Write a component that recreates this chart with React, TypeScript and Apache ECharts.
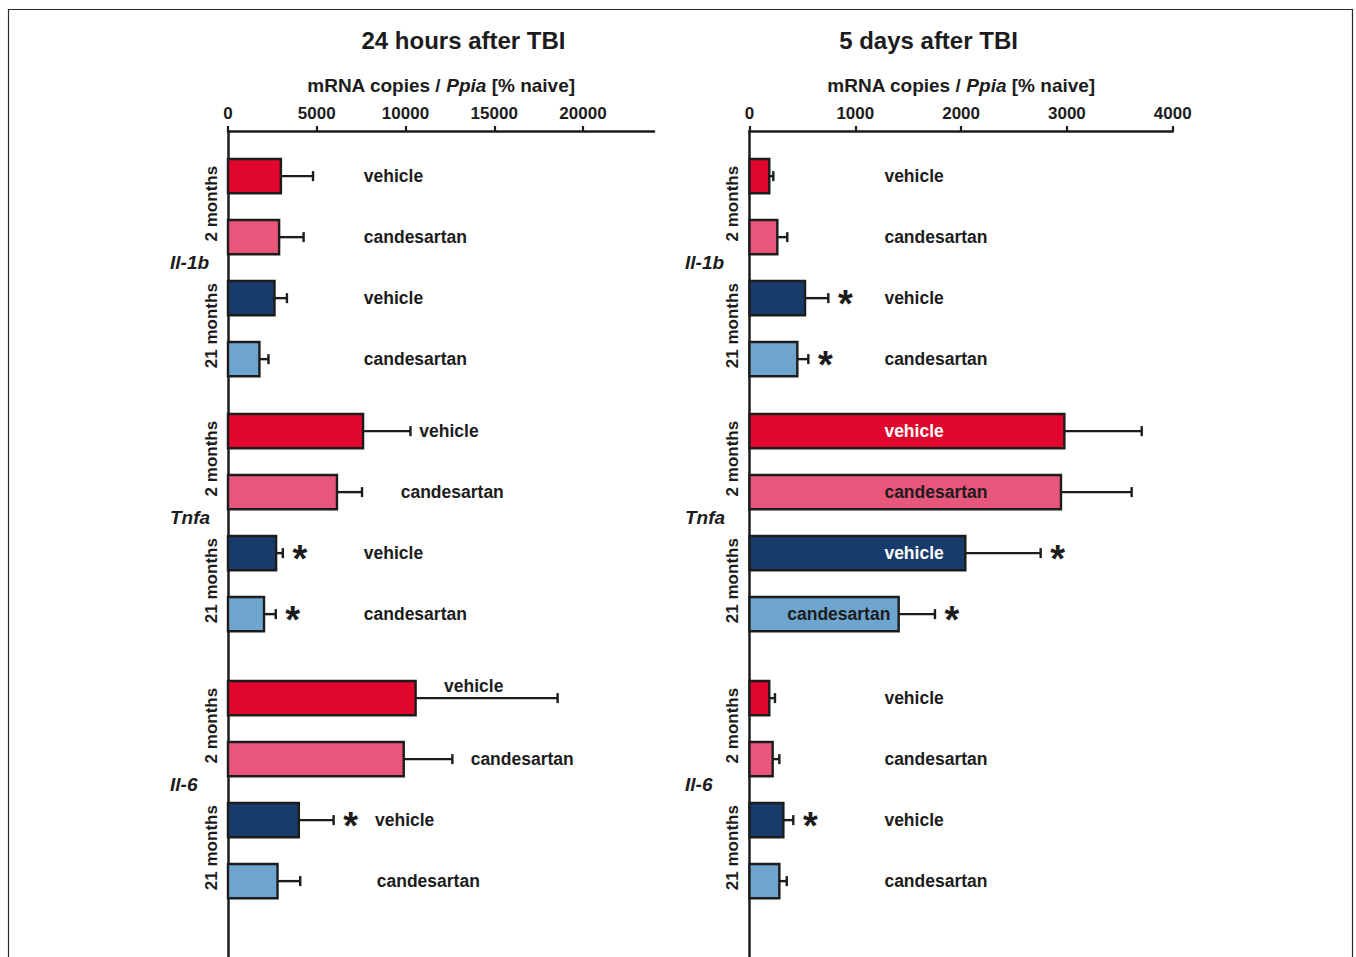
import React, { useEffect, useRef } from "react";
import * as echarts from "echarts";

// ---------- data ----------
const GENES = ["Il-1b", "Tnfa", "Il-6"];
const AGES = ["2 months", "21 months"];
const TREATMENTS = ["vehicle", "candesartan"];

// order inside each gene: 2 months vehicle, 2 months candesartan, 21 months vehicle, 21 months candesartan
const H24_MEAN = [2980, 2880, 2620, 1770, 7610, 6140, 2710, 2030, 10570, 9900, 3990, 2790];
const H24_UPPER = [4790, 4260, 3320, 2280, 10280, 7550, 3090, 2690, 18570, 12640, 5950, 4070];
const H24_SIG = [0, 0, 0, 0, 0, 0, 1, 1, 0, 0, 1, 0];

const D5_MEAN = [187, 263, 525, 452, 2976, 2944, 2040, 1410, 187, 219, 320, 282];
const D5_UPPER = [225, 357, 745, 556, 3707, 3612, 2752, 1753, 241, 282, 414, 352];
const D5_SIG = [0, 0, 1, 1, 0, 0, 1, 1, 0, 0, 1, 0];

const H24_TICKS = [0, 5000, 10000, 15000, 20000];
const D5_TICKS = [0, 1000, 2000, 3000, 4000];

// ---------- layout ----------
const H24_LABEL_AT = [7650, 7650, 7650, 7650, 10780, 9730, 7650, 7650, 12170, 13670, 8280, 8380];
const H24_LABEL_DY = [0, 0, 0, 0, 0, 0, 0, 0, -12, 0, 0, 0];
const H24_LABEL_LIGHT = [0, 0, 0, 0, 0, 0, 0, 0, 0, 0, 0, 0];
const D5_LABEL_AT = [1275, 1275, 1275, 1275, 1275, 1275, 1275, 357, 1275, 1275, 1275, 1275];
const D5_LABEL_DY = [0, 0, 0, 0, 0, 0, 0, 0, 0, 0, 0, 0];
const D5_LABEL_LIGHT = [0, 0, 0, 0, 1, 0, 1, 0, 0, 0, 0, 0];

const GROUP_START = [0, 4.18, 8.557];
const BAR_ROWS = 0.56;
const COLORS = ["#e1062c", "#e8567b", "#173c6b", "#6ea5cf"];
const INK = "#1c1c1c";
const FONT = '"Liberation Sans", Arial, Helvetica, sans-serif';

const PANELS = [
  {
    title: "24 hours after TBI", titleX: 463.5, left: 228, width: 426, max: 24000,
    mean: H24_MEAN, upper: H24_UPPER, sig: H24_SIG, ticks: H24_TICKS,
    labelAt: H24_LABEL_AT, labelDy: H24_LABEL_DY, labelLight: H24_LABEL_LIGHT, geneOffset: 58,
  },
  {
    title: "5 days after TBI", titleX: 928.5, left: 749.5, width: 423.2, max: 4000,
    mean: D5_MEAN, upper: D5_UPPER, sig: D5_SIG, ticks: D5_TICKS,
    labelAt: D5_LABEL_AT, labelDy: D5_LABEL_DY, labelLight: D5_LABEL_LIGHT, geneOffset: 64.5,
  },
];

function rowPos(k: number) {
  const g = Math.floor(k / 4);
  return GROUP_START[g] + (k % 4);
}

function makeRender(p: any) {
  return (params: any, api: any) => {
    const k = params.dataIndex;
    const pos = rowPos(k);
    const mean = api.value(1);
    const upper = api.value(2);
    const [x0, yc] = api.coord([0, pos]);
    const x1 = api.coord([mean, pos])[0];
    const xe = api.coord([upper, pos])[0];
    const h = api.size([0, BAR_ROWS])[1];
    const i = k % 4;
    const line = { stroke: INK, lineWidth: 2.4 };
    const children: any[] = [
      { type: "line", shape: { x1: x1, y1: yc, x2: xe, y2: yc }, style: line },
      { type: "line", shape: { x1: xe, y1: yc - 5, x2: xe, y2: yc + 5 }, style: line },
      {
        type: "rect",
        shape: { x: x0, y: yc - h / 2, width: x1 - x0, height: h },
        style: { fill: COLORS[i], stroke: INK, lineWidth: 2.4 },
      },
      {
        type: "text",
        x: api.coord([p.labelAt[k], pos])[0],
        y: yc + p.labelDy[k],
        style: {
          text: TREATMENTS[i % 2],
          fill: p.labelLight[k] ? "#ffffff" : INK,
          font: `bold 17.5px ${FONT}`,
          align: "left",
          verticalAlign: "middle",
        },
      },
    ];
    if (p.sig[k]) {
      children.push({
        type: "text",
        x: xe + 17,
        y: yc + 6,
        style: { text: "*", fill: INK, font: `bold 38px ${FONT}`, align: "center", verticalAlign: "middle" },
      });
    }
    if (i % 2 === 0) {
      const yNext = api.coord([0, pos + 1])[1];
      children.push({
        type: "text",
        x: x0 - 17,
        y: (yc + yNext) / 2 - 3,
        rotation: Math.PI / 2,
        style: {
          text: AGES[i / 2], fill: INK, font: `bold 17px ${FONT}`,
          align: "center", verticalAlign: "middle",
        },
      });
    }
    if (i === 1) {
      const yNext = api.coord([0, pos + 1])[1];
      children.push({
        type: "text",
        x: x0 - p.geneOffset,
        y: (yc + yNext) / 2 - 5,
        style: {
          text: GENES[Math.floor(k / 4)], fill: INK, font: `italic bold 19px ${FONT}`,
          align: "left", verticalAlign: "middle",
        },
      });
    }
    return { type: "group", children };
  };
}

export default function App() {
  const ref = useRef<HTMLDivElement>(null);
  useEffect(() => {
    if (!ref.current) return;
    const chart = echarts.init(ref.current, undefined, { renderer: "svg" });
    const grids = PANELS.map((p) => ({ left: p.left, top: 131, width: p.width, height: 826 }));
    const xAxes = PANELS.map((p, gi) => ({
      type: "value",
      gridIndex: gi,
      position: "top",
      min: 0,
      max: p.max,
      interval: p.ticks[1] - p.ticks[0],
      name: "{a|mRNA copies / }{b|Ppia}{a| [% naive]}",
      nameLocation: "middle",
      nameGap: 36,
      nameTextStyle: {
        rich: {
          a: { fontSize: 19, fontWeight: "bold", fontFamily: FONT, color: INK },
          b: { fontSize: 19, fontWeight: "bold", fontStyle: "italic", fontFamily: FONT, color: INK },
        },
      },
      axisLine: { show: true, onZero: false, lineStyle: { color: INK, width: 2.5 } },
      axisTick: { show: true, length: 5, customValues: p.ticks, lineStyle: { color: INK, width: 2.2 } },
      axisLabel: {
        customValues: p.ticks,
        showMaxLabel: true,
        showMinLabel: true,
        formatter: (v: number) => String(v),
        margin: 9,
        fontSize: 17,
        fontWeight: "bold",
        fontFamily: FONT,
        color: INK,
      },
      splitLine: { show: false },
    }));
    const yAxes = PANELS.map((p, gi) => ({
      type: "value",
      gridIndex: gi,
      inverse: true,
      min: -0.74,
      max: -0.74 + 826 / 61,
      axisLine: { show: true, onZero: false, lineStyle: { color: INK, width: 2.5 } },
      axisTick: { show: false },
      axisLabel: { show: false },
      splitLine: { show: false },
    }));
    const series = PANELS.map((p, gi) => ({
      type: "custom",
      xAxisIndex: gi,
      yAxisIndex: gi,
      clip: false,
      renderItem: makeRender(p),
      data: p.mean.map((m, k) => [rowPos(k), m, p.upper[k]]),
      encode: { x: [1, 2], y: 0 },
    }));
    chart.setOption({
      animation: false,
      backgroundColor: "#ffffff",
      grid: grids,
      xAxis: xAxes,
      yAxis: yAxes,
      series,
      graphic: [
        {
          type: "rect",
          shape: { x: 8.5, y: 9.5, width: 1344, height: 1000 },
          style: { fill: "none", stroke: "#2a2a2a", lineWidth: 1.2 },
          silent: true,
        },
        ...PANELS.map((p) => ({
          type: "text",
          x: p.titleX,
          y: 40,
          style: { text: p.title, fill: INK, font: `bold 24px ${FONT}`, align: "center", verticalAlign: "middle" },
        })),
      ],
    });
    return () => chart.dispose();
  }, []);
  return (
    <div
      ref={ref}
      style={{ position: "fixed", left: 0, top: 0, width: 1356, height: 957, background: "#fff" }}
    />
  );
}
